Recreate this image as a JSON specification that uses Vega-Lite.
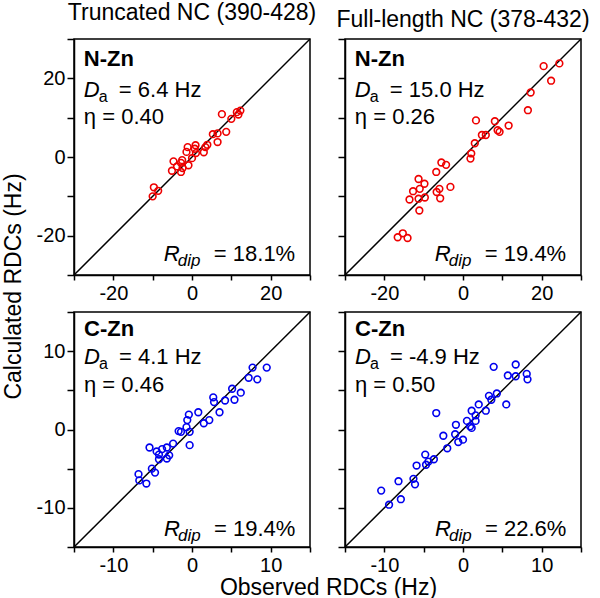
{
  "$schema": "https://vega.github.io/schema/vega-lite/v6.json",
  "padding": {"left": 1, "top": 1, "right": 0, "bottom": 0},
  "background": "white",
  "config": {
    "font": "Liberation Sans",
    "view": {"stroke": "black", "strokeWidth": 1.5},
    "axis": {"grid": false, "domainColor": "black", "domainWidth": 1.5, "tickColor": "black", "tickWidth": 1.5, "labelColor": "black", "labelFontSize": 20, "titleColor": "black", "titleFontWeight": "normal", "titleFontSize": 23},
    "axisX": {"tickSize": 5, "labelPadding": 3},
    "axisY": {"tickSize": 7, "labelPadding": 2},
    "title": {"fontSize": 23, "fontWeight": "normal", "color": "black", "anchor": "middle", "baseline": "alphabetic", "offset": 4},
    "text": {"color": "black", "align": "left", "baseline": "alphabetic", "fontSize": 22}
  },
  "datasets": {
    "diagN": [{"v": -30}, {"v": 30}],
    "diagC": [{"v": -15}, {"v": 15}],
    "ntrunc": [
      {"obs": 12.3, "calc": 11.8}, {"obs": 11.4, "calc": 11.4}, {"obs": 11.8, "calc": 10.8}, {"obs": 7.6, "calc": 10.9},
      {"obs": 10.0, "calc": 9.7}, {"obs": 8.7, "calc": 6.4}, {"obs": 6.5, "calc": 6.0}, {"obs": 5.3, "calc": 5.8},
      {"obs": 6.5, "calc": 3.8}, {"obs": 3.9, "calc": 3.1}, {"obs": 3.4, "calc": 2.5}, {"obs": 3.0, "calc": 1.2},
      {"obs": 0.9, "calc": 3.0}, {"obs": 0.7, "calc": 2.1}, {"obs": -1.1, "calc": 2.5}, {"obs": -1.4, "calc": 1.3},
      {"obs": 1.0, "calc": 1.0}, {"obs": 0.0, "calc": -0.3}, {"obs": -0.9, "calc": -2.1}, {"obs": -2.5, "calc": -0.8},
      {"obs": -2.8, "calc": -1.5}, {"obs": -4.7, "calc": -1.1}, {"obs": -3.8, "calc": -2.4}, {"obs": -5.1, "calc": -3.5},
      {"obs": -2.8, "calc": -3.8}, {"obs": -2.4, "calc": -2.8}, {"obs": -9.7, "calc": -7.7}, {"obs": -8.6, "calc": -8.6},
      {"obs": -10.0, "calc": -10.0}
    ],
    "nfull": [
      {"obs": 24.5, "calc": 23.8}, {"obs": 20.5, "calc": 23.1}, {"obs": 22.4, "calc": 19.4}, {"obs": 17.2, "calc": 16.4},
      {"obs": 16.5, "calc": 11.9}, {"obs": 11.6, "calc": 8.0}, {"obs": 8.1, "calc": 9.1}, {"obs": 8.8, "calc": 6.8},
      {"obs": 9.3, "calc": 6.4}, {"obs": 3.3, "calc": 9.3}, {"obs": 4.8, "calc": 5.6}, {"obs": 5.8, "calc": 5.6},
      {"obs": 3.0, "calc": 3.5}, {"obs": 2.1, "calc": 0.9}, {"obs": 1.9, "calc": -0.4}, {"obs": -5.5, "calc": -1.4},
      {"obs": -4.3, "calc": -2.0}, {"obs": -6.8, "calc": -3.8}, {"obs": -3.2, "calc": -7.6}, {"obs": -6.0, "calc": -8.1},
      {"obs": -5.8, "calc": -10.5}, {"obs": -6.7, "calc": -8.9}, {"obs": -11.3, "calc": -5.6}, {"obs": -9.8, "calc": -6.8},
      {"obs": -11.0, "calc": -8.1}, {"obs": -12.7, "calc": -8.7}, {"obs": -13.6, "calc": -10.8}, {"obs": -11.3, "calc": -10.6},
      {"obs": -9.7, "calc": -10.3}, {"obs": -11.1, "calc": -13.6}, {"obs": -16.6, "calc": -20.4}, {"obs": -15.3, "calc": -19.4},
      {"obs": -14.1, "calc": -20.6}
    ],
    "ctrunc": [
      {"obs": 9.5, "calc": 7.9}, {"obs": 7.7, "calc": 7.9}, {"obs": 7.2, "calc": 6.6}, {"obs": 8.3, "calc": 6.4},
      {"obs": 5.1, "calc": 5.2}, {"obs": 6.2, "calc": 4.7}, {"obs": 2.7, "calc": 4.1}, {"obs": 2.8, "calc": 3.5},
      {"obs": 4.2, "calc": 3.7}, {"obs": 5.4, "calc": 3.8}, {"obs": 0.8, "calc": 2.2}, {"obs": 3.5, "calc": 2.2},
      {"obs": -0.4, "calc": 1.9}, {"obs": -0.6, "calc": 1.2}, {"obs": 2.2, "calc": 1.2}, {"obs": 1.5, "calc": 0.8},
      {"obs": -0.7, "calc": 0.3}, {"obs": -1.7, "calc": -0.2}, {"obs": -1.4, "calc": -0.3}, {"obs": -0.3, "calc": -0.3},
      {"obs": -0.3, "calc": -2.0}, {"obs": -2.4, "calc": -1.8}, {"obs": -3.2, "calc": -2.3}, {"obs": -3.8, "calc": -2.5},
      {"obs": -5.4, "calc": -2.3}, {"obs": -4.5, "calc": -2.8}, {"obs": -2.9, "calc": -3.3}, {"obs": -3.2, "calc": -3.7},
      {"obs": -4.2, "calc": -3.8}, {"obs": -5.1, "calc": -5.0}, {"obs": -4.7, "calc": -5.5}, {"obs": -6.8, "calc": -5.7},
      {"obs": -6.7, "calc": -6.5}, {"obs": -5.8, "calc": -6.9}, {"obs": -4.2, "calc": -3.2}
    ],
    "cfull": [
      {"obs": 3.9, "calc": 8.0}, {"obs": 6.7, "calc": 8.3}, {"obs": 5.7, "calc": 6.9}, {"obs": 6.7, "calc": 6.8},
      {"obs": 8.1, "calc": 7.1}, {"obs": 8.2, "calc": 6.4}, {"obs": 4.3, "calc": 4.6}, {"obs": 3.3, "calc": 4.3},
      {"obs": 3.6, "calc": 3.8}, {"obs": 5.5, "calc": 3.2}, {"obs": 2.0, "calc": 3.2}, {"obs": 2.9, "calc": 2.4},
      {"obs": 1.1, "calc": 2.4}, {"obs": 1.6, "calc": 1.8}, {"obs": 0.5, "calc": 1.1}, {"obs": 1.6, "calc": 1.1},
      {"obs": 0.9, "calc": 0.4}, {"obs": 1.1, "calc": 0.2}, {"obs": -3.4, "calc": 2.1}, {"obs": -0.9, "calc": 0.6},
      {"obs": -1.0, "calc": -0.6}, {"obs": -0.6, "calc": -1.6}, {"obs": 0.0, "calc": -1.3}, {"obs": -2.5, "calc": -0.8},
      {"obs": -2.0, "calc": -2.4}, {"obs": -4.8, "calc": -3.2}, {"obs": -3.7, "calc": -3.8}, {"obs": -4.4, "calc": -4.1},
      {"obs": -4.7, "calc": -4.5}, {"obs": -5.9, "calc": -4.6}, {"obs": -6.3, "calc": -6.3}, {"obs": -6.1, "calc": -7.0},
      {"obs": -8.2, "calc": -6.6}, {"obs": -10.4, "calc": -7.8}, {"obs": -9.4, "calc": -9.6}, {"obs": -7.9, "calc": -8.9}
    ]
  },
  "columns": 2,
  "bounds": "flush",
  "spacing": {"row": 37, "column": 35},
  "concat": [
    {
      "width": 236, "height": 236,
      "title": {"text": "Truncated NC (390-428)"},
      "layer": [
        {"data": {"name": "diagN"}, "mark": {"type": "line", "color": "black", "strokeWidth": 1.5},
         "encoding": {
           "x": {"field": "v", "type": "quantitative", "scale": {"domain": [-30, 30], "nice": false, "zero": false},
                 "axis": {"title": null, "tickCount": 20, "labelOverlap": false, "values": [-30, -20, -10, 0, 10, 20, 30], "labelExpr": "datum.value % 20 == 0 ? '' + datum.value : ''"}},
           "y": {"field": "v", "type": "quantitative", "scale": {"domain": [-30, 30], "nice": false, "zero": false},
                 "axis": {"title": "Calculated RDCs (Hz)", "titleX": -54, "titleY": 247, "titleAngle": 270, "titleAlign": "center", "titleBaseline": "alphabetic",
                          "tickCount": 20, "labelOverlap": false, "values": [-30, -20, -10, 0, 10, 20, 30], "labelExpr": "datum.value % 20 == 0 ? '' + datum.value : ''"}}
         }},
        {"data": {"name": "ntrunc"}, "mark": {"type": "point", "shape": "circle", "filled": false, "color": "#ee0000", "size": 45, "strokeWidth": 1.6, "opacity": 1},
         "encoding": {"x": {"field": "obs", "type": "quantitative"}, "y": {"field": "calc", "type": "quantitative"}}},
        {"data": {"values": [{}]}, "mark": {"type": "text", "text": "N-Zn", "fontWeight": "bold"}, "encoding": {"x": {"datum": -27.5}, "y": {"datum": 23.2}}},
        {"data": {"values": [{}]}, "mark": {"type": "text", "text": "D", "fontStyle": "italic"}, "encoding": {"x": {"datum": -27.5}, "y": {"datum": 15.2}}},
        {"data": {"values": [{}]}, "mark": {"type": "text", "text": "a", "fontSize": 16, "dx": 15, "dy": 5}, "encoding": {"x": {"datum": -27.5}, "y": {"datum": 15.2}}},
        {"data": {"values": [{}]}, "mark": {"type": "text", "text": "= 6.4 Hz", "dx": 35}, "encoding": {"x": {"datum": -27.5}, "y": {"datum": 15.2}}},
        {"data": {"values": [{}]}, "mark": {"type": "text", "text": "η = 0.40"}, "encoding": {"x": {"datum": -27.5}, "y": {"datum": 8.4}}},
        {"data": {"values": [{}]}, "mark": {"type": "text", "text": "R", "fontStyle": "italic", "dx": 80}, "encoding": {"x": {"datum": -27.5}, "y": {"datum": -26.4}}},
        {"data": {"values": [{}]}, "mark": {"type": "text", "text": "dip", "fontStyle": "italic", "fontSize": 17, "dx": 94, "dy": 5}, "encoding": {"x": {"datum": -27.5}, "y": {"datum": -26.4}}},
        {"data": {"values": [{}]}, "mark": {"type": "text", "text": "= 18.1%", "dx": 130}, "encoding": {"x": {"datum": -27.5}, "y": {"datum": -26.4}}}
      ]
    },
    {
      "width": 236, "height": 236,
      "title": {"text": "Full-length NC (378-432)"},
      "layer": [
        {"data": {"name": "diagN"}, "mark": {"type": "line", "color": "black", "strokeWidth": 1.5},
         "encoding": {
           "x": {"field": "v", "type": "quantitative", "scale": {"domain": [-30, 30], "nice": false, "zero": false},
                 "axis": {"title": null, "tickCount": 20, "labelOverlap": false, "values": [-30, -20, -10, 0, 10, 20, 30], "labelExpr": "datum.value % 20 == 0 ? '' + datum.value : ''"}},
           "y": {"field": "v", "type": "quantitative", "scale": {"domain": [-30, 30], "nice": false, "zero": false},
                 "axis": {"title": null, "labels": false, "tickCount": 20, "values": [-30, -20, -10, 0, 10, 20, 30]}}
         }},
        {"data": {"name": "nfull"}, "mark": {"type": "point", "shape": "circle", "filled": false, "color": "#ee0000", "size": 45, "strokeWidth": 1.6, "opacity": 1},
         "encoding": {"x": {"field": "obs", "type": "quantitative"}, "y": {"field": "calc", "type": "quantitative"}}},
        {"data": {"values": [{}]}, "mark": {"type": "text", "text": "N-Zn", "fontWeight": "bold"}, "encoding": {"x": {"datum": -27.5}, "y": {"datum": 23.2}}},
        {"data": {"values": [{}]}, "mark": {"type": "text", "text": "D", "fontStyle": "italic"}, "encoding": {"x": {"datum": -27.5}, "y": {"datum": 15.2}}},
        {"data": {"values": [{}]}, "mark": {"type": "text", "text": "a", "fontSize": 16, "dx": 15, "dy": 5}, "encoding": {"x": {"datum": -27.5}, "y": {"datum": 15.2}}},
        {"data": {"values": [{}]}, "mark": {"type": "text", "text": "= 15.0 Hz", "dx": 35}, "encoding": {"x": {"datum": -27.5}, "y": {"datum": 15.2}}},
        {"data": {"values": [{}]}, "mark": {"type": "text", "text": "η = 0.26"}, "encoding": {"x": {"datum": -27.5}, "y": {"datum": 8.4}}},
        {"data": {"values": [{}]}, "mark": {"type": "text", "text": "R", "fontStyle": "italic", "dx": 80}, "encoding": {"x": {"datum": -27.5}, "y": {"datum": -26.4}}},
        {"data": {"values": [{}]}, "mark": {"type": "text", "text": "dip", "fontStyle": "italic", "fontSize": 17, "dx": 94, "dy": 5}, "encoding": {"x": {"datum": -27.5}, "y": {"datum": -26.4}}},
        {"data": {"values": [{}]}, "mark": {"type": "text", "text": "= 19.4%", "dx": 130}, "encoding": {"x": {"datum": -27.5}, "y": {"datum": -26.4}}}
      ]
    },
    {
      "width": 236, "height": 235,
      "layer": [
        {"data": {"name": "diagC"}, "mark": {"type": "line", "color": "black", "strokeWidth": 1.5},
         "encoding": {
           "x": {"field": "v", "type": "quantitative", "scale": {"domain": [-15, 15], "nice": false, "zero": false},
                 "axis": {"title": "Observed RDCs (Hz)", "titleX": 254, "titleY": 47, "titleAlign": "center", "titleBaseline": "alphabetic",
                          "tickCount": 20, "labelOverlap": false, "values": [-15, -10, -5, 0, 5, 10, 15], "labelExpr": "datum.value % 10 == 0 ? '' + datum.value : ''"}},
           "y": {"field": "v", "type": "quantitative", "scale": {"domain": [-15, 15], "nice": false, "zero": false},
                 "axis": {"title": null, "tickCount": 20, "labelOverlap": false, "values": [-15, -10, -5, 0, 5, 10, 15], "labelExpr": "datum.value % 10 == 0 ? '' + datum.value : ''"}}
         }},
        {"data": {"name": "ctrunc"}, "mark": {"type": "point", "shape": "circle", "filled": false, "color": "#0000ee", "size": 45, "strokeWidth": 1.6, "opacity": 1},
         "encoding": {"x": {"field": "obs", "type": "quantitative"}, "y": {"field": "calc", "type": "quantitative"}}},
        {"data": {"values": [{}]}, "mark": {"type": "text", "text": "C-Zn", "fontWeight": "bold"}, "encoding": {"x": {"datum": -13.73}, "y": {"datum": 11.9}}},
        {"data": {"values": [{}]}, "mark": {"type": "text", "text": "D", "fontStyle": "italic"}, "encoding": {"x": {"datum": -13.73}, "y": {"datum": 8.4}}},
        {"data": {"values": [{}]}, "mark": {"type": "text", "text": "a", "fontSize": 16, "dx": 15, "dy": 5}, "encoding": {"x": {"datum": -13.73}, "y": {"datum": 8.4}}},
        {"data": {"values": [{}]}, "mark": {"type": "text", "text": "= 4.1 Hz", "dx": 35}, "encoding": {"x": {"datum": -13.73}, "y": {"datum": 8.4}}},
        {"data": {"values": [{}]}, "mark": {"type": "text", "text": "η = 0.46"}, "encoding": {"x": {"datum": -13.73}, "y": {"datum": 4.83}}},
        {"data": {"values": [{}]}, "mark": {"type": "text", "text": "R", "fontStyle": "italic", "dx": 80}, "encoding": {"x": {"datum": -13.73}, "y": {"datum": -13.6}}},
        {"data": {"values": [{}]}, "mark": {"type": "text", "text": "dip", "fontStyle": "italic", "fontSize": 17, "dx": 94, "dy": 5}, "encoding": {"x": {"datum": -13.73}, "y": {"datum": -13.6}}},
        {"data": {"values": [{}]}, "mark": {"type": "text", "text": "= 19.4%", "dx": 130}, "encoding": {"x": {"datum": -13.73}, "y": {"datum": -13.6}}}
      ]
    },
    {
      "width": 236, "height": 235,
      "layer": [
        {"data": {"name": "diagC"}, "mark": {"type": "line", "color": "black", "strokeWidth": 1.5},
         "encoding": {
           "x": {"field": "v", "type": "quantitative", "scale": {"domain": [-15, 15], "nice": false, "zero": false},
                 "axis": {"title": null, "tickCount": 20, "labelOverlap": false, "values": [-15, -10, -5, 0, 5, 10, 15], "labelExpr": "datum.value % 10 == 0 ? '' + datum.value : ''"}},
           "y": {"field": "v", "type": "quantitative", "scale": {"domain": [-15, 15], "nice": false, "zero": false},
                 "axis": {"title": null, "labels": false, "tickCount": 20, "values": [-15, -10, -5, 0, 5, 10, 15]}}
         }},
        {"data": {"name": "cfull"}, "mark": {"type": "point", "shape": "circle", "filled": false, "color": "#0000ee", "size": 45, "strokeWidth": 1.6, "opacity": 1},
         "encoding": {"x": {"field": "obs", "type": "quantitative"}, "y": {"field": "calc", "type": "quantitative"}}},
        {"data": {"values": [{}]}, "mark": {"type": "text", "text": "C-Zn", "fontWeight": "bold"}, "encoding": {"x": {"datum": -13.73}, "y": {"datum": 11.9}}},
        {"data": {"values": [{}]}, "mark": {"type": "text", "text": "D", "fontStyle": "italic"}, "encoding": {"x": {"datum": -13.73}, "y": {"datum": 8.4}}},
        {"data": {"values": [{}]}, "mark": {"type": "text", "text": "a", "fontSize": 16, "dx": 15, "dy": 5}, "encoding": {"x": {"datum": -13.73}, "y": {"datum": 8.4}}},
        {"data": {"values": [{}]}, "mark": {"type": "text", "text": "= -4.9 Hz", "dx": 35}, "encoding": {"x": {"datum": -13.73}, "y": {"datum": 8.4}}},
        {"data": {"values": [{}]}, "mark": {"type": "text", "text": "η = 0.50"}, "encoding": {"x": {"datum": -13.73}, "y": {"datum": 4.83}}},
        {"data": {"values": [{}]}, "mark": {"type": "text", "text": "R", "fontStyle": "italic", "dx": 80}, "encoding": {"x": {"datum": -13.73}, "y": {"datum": -13.6}}},
        {"data": {"values": [{}]}, "mark": {"type": "text", "text": "dip", "fontStyle": "italic", "fontSize": 17, "dx": 94, "dy": 5}, "encoding": {"x": {"datum": -13.73}, "y": {"datum": -13.6}}},
        {"data": {"values": [{}]}, "mark": {"type": "text", "text": "= 22.6%", "dx": 130}, "encoding": {"x": {"datum": -13.73}, "y": {"datum": -13.6}}}
      ]
    }
  ]
}
